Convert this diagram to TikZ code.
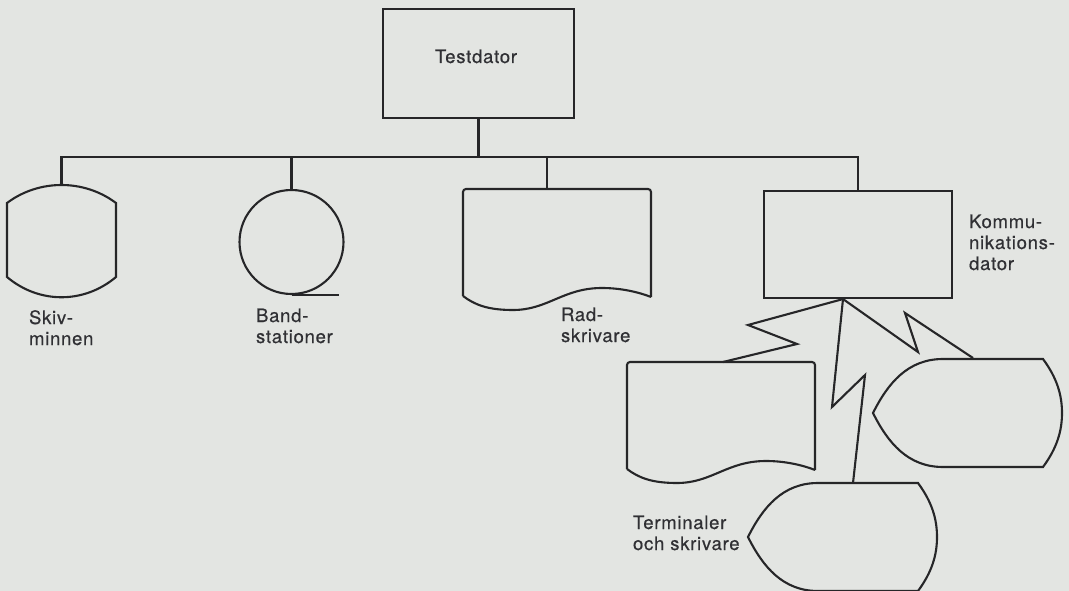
\documentclass[tikz,border=0pt]{standalone}
\usepackage{fontspec}
\setmainfont[LetterSpace=4,FakeBold=0.5]{TeX Gyre Heros}
\usetikzlibrary{calc}

\definecolor{paper}{RGB}{227,229,226}
\definecolor{ink}{RGB}{38,38,40}
\definecolor{txt}{RGB}{48,48,52}

\begin{document}
\begin{tikzpicture}[x=1pt, y=-1pt, line width=2.1pt, line join=miter, color=ink,
  box/.style={draw, rectangle, inner sep=0pt},
  lbl/.style={anchor=base west, align=left, inner sep=0pt,
              font=\fontsize{18.5}{21}\selectfont, text=txt},
  % printer / document symbol, origin at its top-left corner
  docshape/.pic={
    \draw[rounded corners=3pt] (0,107) -- (0,0) -- (188,0) -- (188,108);
    \draw (0,107) .. controls (12,116) and (25,121) .. (50,121)
          .. controls (85,121) and (100,99) .. (139,99)
          .. controls (160,99) and (178,104) .. (188,108);
  },
  % display / terminal symbol, origin at its left point
  dispshape/.pic={
    \draw (0,0) .. controls (15,-30) and (35,-54) .. (70,-54)
          -- (170,-54)
          .. controls (184,-35) and (189,-18) .. (189,0)
          .. controls (189,18) and (184,35) .. (170,54)
          -- (70,54)
          .. controls (35,54) and (15,30) .. (0,0) -- cycle;
  }]

\fill[paper] (0,0) rectangle (1069,591);
\useasboundingbox (0,0) rectangle (1069,591);

% test computer
\node[box, minimum width=191pt, minimum height=109pt] (test) at (478.5,63.5) {};
\node[lbl, anchor=base] (testtext) at (476,63) {Testdator};

% disk storage
\draw (7,203) .. controls (39,179) and (84,179) .. (116,203)
      -- (116,277) .. controls (84,304) and (39,304) .. (7,277) -- cycle;
\coordinate (skiv) at (61.5,185);
\node[lbl] (skivtext) at (28,345) {Skiv-\\minnen};

% tape stations
\node[circle, draw, minimum size=104pt, inner sep=0pt] (band) at (291.5,242) {};
\draw (band.south) -- ++(47,0);
\node[lbl] (bandtext) at (255,343) {Band-\\stationer};

% line printer
\pic at (463,189) {docshape};
\coordinate (rad) at (547,189);
\node[lbl] (radtext) at (560,342) {Rad-\\skrivare};

% communication computer
\node[box, minimum width=188pt, minimum height=107pt] (komm) at (858,244.5) {};
\node[lbl] (kommtext) at (968,270) {Kommu-\\nikations-\\dator};

% bus below the test computer
\coordinate (busy) at (0,157);
\draw (test.south) -- (test.south |- busy);
\draw (skiv) |- (komm.north |- busy) -- (komm.north);
\draw (band.north) -- (band.north |- busy);
\draw (rad) -- (rad |- busy);

% terminals and printers
\pic at (627,362) {docshape};
\coordinate (tdoc) at (723,362);
\pic at (873,413) {dispshape};
\coordinate (rdisp) at (973,358);
\pic at (748,537) {dispshape};
\coordinate (bdisp) at (853,483);
\node[lbl] (termtext) at (632,550) {Terminaler\\och skrivare};

% telecommunication links
\coordinate (tap) at ($(komm.south)+(-15,0)$);
\draw (tap) -- (748,325) -- (797,344) -- (tdoc);
\draw (tap) -- (832,407) -- (865,375) -- (bdisp);
\draw (tap) -- (918,352) -- (905,313) -- (rdisp);
\end{tikzpicture}
\end{document}
